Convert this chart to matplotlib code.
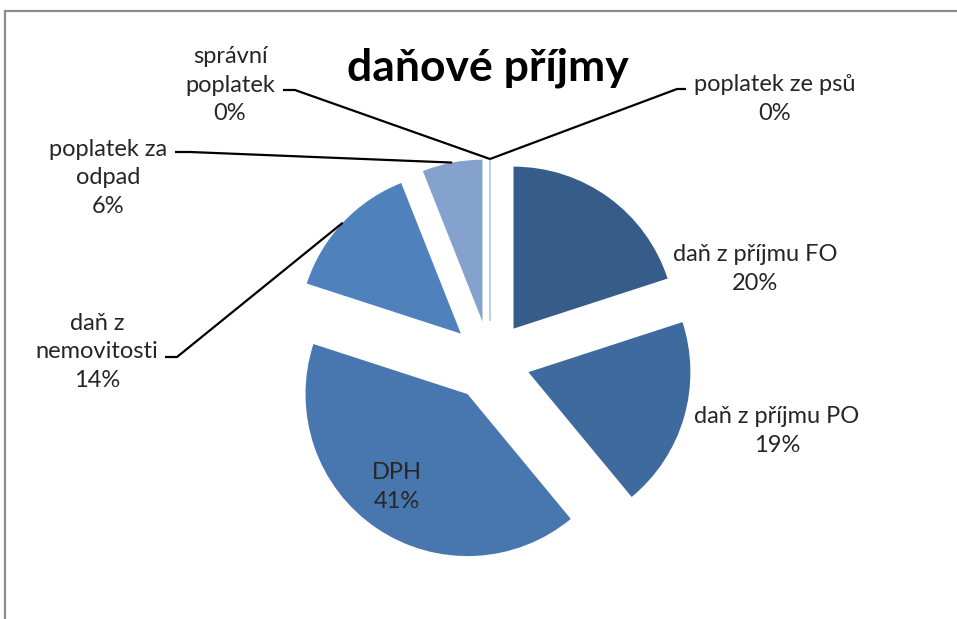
import numpy as np
import matplotlib
matplotlib.use("Agg")
import matplotlib.pyplot as plt
from matplotlib.patches import Rectangle

plt.rcParams['font.family'] = ['Lato', 'DejaVu Sans']

# data
labels = ['daň z příjmu FO', 'daň z příjmu PO', 'DPH', 'daň z\nnemovitosti',
          'poplatek za\nodpad', 'správní\npoplatek', 'poplatek ze psů']
values = [20, 19, 41, 14, 6, 0, 0]
colors = ['#365C89', '#3F6A9D', '#4877AF', '#4F81BD', '#84A2CD', '#B9CDE5', '#B9CDE5']

# layout in pixels (y measured from top of the image)
W, H = 957, 619
cx, cy = 490, 361
radius = 162
explode_px = 40

# label anchor positions (pixel coords, centre of text block)
label_pos = [(755, 269), (777, 431), (397, 487), (97, 352), (108, 178), (230, 85), (775, 99)]
# elbow / end points of leader lines for outside labels
leaders = {3: [(177, 357), (165, 357)],
           4: [(190, 152), (175, 152)],
           5: [(295, 90), (283, 90)],
           6: [(677, 89), (686, 89)]}

fig = plt.figure(figsize=(W / 100, H / 100), dpi=100)
ax = fig.add_axes([0, 0, 1, 1])

wedges, _ = ax.pie(values, colors=colors, startangle=90, counterclock=False,
                   center=(cx, H - cy), radius=radius,
                   explode=[explode_px] * len(values),
                   wedgeprops=dict(linewidth=0))
for v, w in zip(values, wedges):
    if v == 0:
        w.set_edgecolor('#B9CDE5')
        w.set_linewidth(1.0)

ax.set_xlim(0, W)
ax.set_ylim(0, H)
ax.set_aspect('equal')
ax.axis('off')

# labels + leader lines
total = float(sum(values))
for i, (lab, v, w) in enumerate(zip(labels, values, wedges)):
    pct = '%d%%' % round(100 * v / total)
    lx, ly = label_pos[i]
    ax.text(lx, H - ly, lab + '\n' + pct, ha='center', va='center',
            fontsize=17, color='#262626', linespacing=1.42)
    if i in leaders:
        wx, wy = w.center
        mid = np.deg2rad((w.theta1 + w.theta2) / 2)
        px = wx + w.r * np.cos(mid)
        py = wy + w.r * np.sin(mid)
        pts = [(px, py)] + [(x, H - y) for x, y in leaders[i]]
        xs, ys = zip(*pts)
        ax.plot(xs, ys, color='black', lw=1.6, solid_capstyle='butt')

ax.text(488, H - 68, 'daňové příjmy', ha='center', va='center',
        fontsize=32, fontweight='bold', color='black')

# chart area border (only top and left are inside the image)
ax.add_patch(Rectangle((5, -50), W + 100, H - 11 + 50, fill=False,
                       edgecolor='#8C8C8C', lw=1.6, clip_on=False))

fig.savefig('out.png', dpi=100)
